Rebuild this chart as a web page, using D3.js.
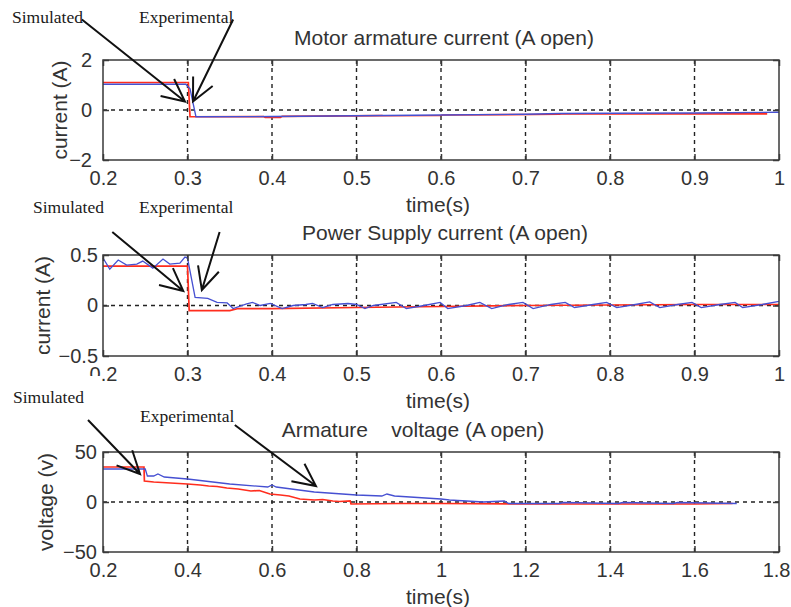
<!DOCTYPE html>
<html>
<head>
<meta charset="utf-8">
<script src="https://cdn.jsdelivr.net/npm/d3@7"></script>
<style>
    body { margin: 0; background: #fff; }
    text { font-family: "Liberation Sans", Arial, sans-serif; fill: #333; }
    .ann { font-family: "Liberation Serif", "Times New Roman", serif; fill: #1a1a1a; font-size: 17.5px; }
</style>
</head>
<body>
<div id="chart"></div>
<script>
// ---- tick labels ----
const xTicks1 = [0.2, 0.3, 0.4, 0.5, 0.6, 0.7, 0.8, 0.9, 1];
const xTicks3 = [0.2, 0.4, 0.6, 0.8, 1, 1.2, 1.4, 1.6, 1.8];
const yTicks1 = [-2, 0, 2];
const yTicks2 = [-0.5, 0, 0.5];
const yTicks3 = [-50, 0, 50];

// ---- motor armature current ----
const simT1 = [0.2, 0.301, 0.303, 0.39, 0.392, 0.41, 0.412, 0.53, 0.532, 0.6, 0.602, 0.74, 0.742, 0.986];
const simV1 = [1.1, 1.1, -0.27, -0.26, -0.3, -0.3, -0.255, -0.225, -0.23, -0.22, -0.2, -0.17, -0.155, -0.155];
const expT1 = [0.2, 0.298, 0.303, 0.31, 0.4, 0.5, 0.6, 0.7, 0.74, 0.8, 0.9, 1.0];
const expV1 = [1.03, 1.03, 0.85, -0.27, -0.26, -0.23, -0.2, -0.17, -0.14, -0.13, -0.12, -0.09];

// ---- power supply current ----
const simT2 = [0.2, 0.3, 0.302, 0.35, 0.36, 0.4, 0.5, 0.6, 0.7, 0.8, 0.9, 1.0];
const simV2 = [0.39, 0.39, -0.05, -0.05, -0.03, -0.03, -0.02, -0.01, 0, 0.005, 0.01, 0.01];
const expT2 = [0.2, 0.208, 0.218, 0.228, 0.24, 0.247, 0.259, 0.271, 0.279, 0.291, 0.297, 0.3,
    0.309, 0.324, 0.335, 0.347, 0.354, 0.37, 0.377, 0.386, 0.398, 0.412, 0.425, 0.44, 0.448,
    0.46, 0.472, 0.49, 0.5, 0.51, 0.52, 0.547, 0.559, 0.58, 0.599, 0.608, 0.63, 0.646, 0.66,
    0.68, 0.697, 0.709, 0.73, 0.747, 0.758, 0.78, 0.796, 0.808, 0.83, 0.847, 0.859, 0.88,
    0.897, 0.908, 0.93, 0.948, 0.957, 0.98, 1.0];
const expV2 = [0.47, 0.36, 0.45, 0.40, 0.41, 0.44, 0.37, 0.46, 0.41, 0.42, 0.48, 0.47,
    0.08, 0.07, 0.03, 0.025, -0.03, 0.015, 0.03, 0.0, 0.02, -0.03, 0.0, 0.01, 0.02,
    -0.02, 0.01, 0.02, 0.01, -0.03, 0.0, 0.03, -0.03, 0.0, 0.03, -0.03, 0.0, 0.03, -0.03,
    0.01, 0.03, -0.03, 0.01, 0.03, -0.02, 0.01, 0.03, -0.02, 0.01, 0.035, -0.02, 0.01,
    0.03, -0.02, 0.01, 0.03, -0.02, 0.01, 0.04];

// ---- armature voltage ----
const simT3 = [0.2, 0.297, 0.298, 0.32, 0.36, 0.4, 0.43, 0.45, 0.47, 0.493, 0.52, 0.55, 0.57,
    0.595, 0.62, 0.64, 0.666, 0.7, 0.72, 0.744, 0.76, 0.785, 0.787, 0.9, 1.0, 1.2, 1.4, 1.6, 1.69];
const simV3 = [35, 35, 21, 20, 19, 18, 17, 16, 15.5, 14, 13, 11, 11.5,
    8, 7, 6, 3, 2, 2.5, 1, 0.5, 1, -2, -1.5, -1.5, -2, -2, -2, -1.5];
const expT3 = [0.2, 0.3, 0.305, 0.32, 0.33, 0.345, 0.4, 0.5, 0.59, 0.6, 0.61, 0.7, 0.8, 0.86,
    0.872, 0.89, 1.0, 1.02, 1.1, 1.15, 1.16, 1.28, 1.29, 1.42, 1.43, 1.55, 1.56, 1.7];
const expV3 = [33, 33, 26, 26, 28, 25, 23, 18, 15, 17, 15, 10, 7, 6,
    8, 6, 3, 2, 0, 1, -1.5, -1.5, -0.5, -1.5, -0.5, -1.5, -0.5, -1.5];

const titles = ["Motor armature current (A open)", "Power Supply current (A open)", "Armature    voltage (A open)"];
const yLabels = ["current (A)", "current (A)", "voltage (v)"];

// callouts: [label, label x, label y, tail (data), tip (data)]
const notes1 = [["Simulated", 12, 23, [0.175, 3.62], [0.297, 0.34]],
                ["Experimental", 139, 23, [0.354, 3.62], [0.3065, 0.34]]];
const notes2 = [["Simulated", 33, 213, [0.211, 0.728], [0.295, 0.144]],
                ["Experimental", 139, 213, [0.338, 0.728], [0.317, 0.153]]];
const notes3 = [["Simulated", 13, 403, [0.1645, 82], [0.2876, 28]],
                ["Experimental", 140, 422, [0.512, 77], [0.704, 16]]];

const W = 791, H = 607;
const left = 103, right = 779;

let svg = d3.select("#chart").append("svg")
    .attr("width", W)
    .attr("height", H);

svg.append("rect").attr("width", W).attr("height", H).attr("fill", "#fff");

const panels = [
    {top: 60, bottom: 160, xd: [0.2, 1], yd: [-2, 2], xt: xTicks1, yt: yTicks1,
        sim: [simT1, simV1], exp: [expT1, expV1], notes: notes1, tx: 444, ylx: 67, ypad: 11},
    {top: 255, bottom: 356, xd: [0.2, 1], yd: [-0.5, 0.5], xt: xTicks1, yt: yTicks2,
        sim: [simT2, simV2], exp: [expT2, expV2], notes: notes2, tx: 445, ylx: 50, ypad: 5},
    {top: 452, bottom: 552, xd: [0.2, 1.8], yd: [-50, 50], xt: xTicks3, yt: yTicks3,
        sim: [simT3, simV3], exp: [expT3, expV3], notes: notes3, tx: 413, ylx: 53, ypad: 6}
];

panels.forEach((p, k) => draw_panel(p, k));

function draw_panel(p, k)
{
    let x = d3.scaleLinear().domain(p.xd).range([left, right]);
    let y = d3.scaleLinear().domain(p.yd).range([p.bottom, p.top]);
    let g = svg.append("g");

    // grid lines (dotted like matlab)
    g.selectAll(".vgrid")
        .data(p.xt.slice(1, -1))
        .enter()
        .append("line")
        .attr("x1", d => x(d)).attr("x2", d => x(d))
        .attr("y1", p.top).attr("y2", p.bottom)
        .attr("stroke", "#222").attr("stroke-width", 1.4)
        .attr("stroke-dasharray", "4,4");
    g.selectAll(".hgrid")
        .data(p.yt.slice(1, -1))
        .enter()
        .append("line")
        .attr("x1", left).attr("x2", right)
        .attr("y1", d => y(d)).attr("y2", d => y(d))
        .attr("stroke", "#222").attr("stroke-width", 1.4)
        .attr("stroke-dasharray", "4,4");

    // series
    let line = d3.line().x(d => x(d[0])).y(d => y(d[1]));
    g.append("path")
        .datum(d3.zip(p.sim[0], p.sim[1]))
        .attr("d", line)
        .attr("fill", "none").attr("stroke", "#ff2d1e").attr("stroke-width", 1.7);
    g.append("path")
        .datum(d3.zip(p.exp[0], p.exp[1]))
        .attr("d", line)
        .attr("fill", "none").attr("stroke", "#4650d2").attr("stroke-width", 1.3);

    // frame + inward ticks
    g.append("rect")
        .attr("x", left).attr("y", p.top)
        .attr("width", right - left).attr("height", p.bottom - p.top)
        .attr("fill", "none").attr("stroke", "#3a3a3a").attr("stroke-width", 1.5);

    g.append("g")
        .attr("transform", `translate(0,${p.bottom})`)
        .call(d3.axisBottom(x).tickValues(p.xt).tickSize(-6).tickPadding(11)
            .tickFormat(d3.format("~g")))
        .call(a => a.select(".domain").remove())
        .call(a => a.selectAll("line").attr("stroke", "#3a3a3a").attr("stroke-width", 1.5))
        .call(a => a.selectAll("text").attr("font-size", 20).attr("fill", "#333")
            .attr("font-family", "Liberation Sans, Arial, sans-serif"))
        //last label of the long axis runs into the page edge, pull it in
        .call(a => a.selectAll("text").filter(d => d == 1.8)
            .attr("text-anchor", "end").attr("x", 790 - x(1.8)));
    g.append("g")
        .attr("transform", `translate(0,${p.top})`)
        .call(d3.axisTop(x).tickValues(p.xt).tickSize(-6).tickFormat(""))
        .call(a => a.select(".domain").remove())
        .call(a => a.selectAll("line").attr("stroke", "#3a3a3a").attr("stroke-width", 1.5));
    g.append("g")
        .attr("transform", `translate(${left},0)`)
        .call(d3.axisLeft(y).tickValues(p.yt).tickSize(-6).tickPadding(p.ypad)
            .tickFormat(d3.format("~g")))
        .call(a => a.select(".domain").remove())
        .call(a => a.selectAll("line").attr("stroke", "#3a3a3a").attr("stroke-width", 1.5))
        .call(a => a.selectAll("text").attr("font-size", 20).attr("fill", "#333")
            .attr("font-family", "Liberation Sans, Arial, sans-serif"));
    g.append("g")
        .attr("transform", `translate(${right},0)`)
        .call(d3.axisRight(y).tickValues(p.yt).tickSize(-6).tickFormat(""))
        .call(a => a.select(".domain").remove())
        .call(a => a.selectAll("line").attr("stroke", "#3a3a3a").attr("stroke-width", 1.5));

    // title, labels
    g.append("text")
        .attr("x", p.tx).attr("y", p.top - 15)
        .attr("text-anchor", "middle")
        .attr("font-size", 21)
        .style("white-space", "pre")
        .text(titles[k]);
    g.append("text")
        .attr("x", 438).attr("y", p.bottom + 52)
        .attr("text-anchor", "middle")
        .attr("font-size", 21)
        .text("time(s)");
    g.append("text")
        .attr("transform", `translate(${p.ylx},${(p.top + p.bottom) / 2}) rotate(-90)`)
        .attr("text-anchor", "middle")
        .attr("font-size", 21)
        .text(yLabels[k]);

    // callouts with arrows
    p.notes.forEach(n => {
        let lbl = g.append("text")
            .attr("class", "ann")
            .attr("x", n[1]).attr("y", n[2])
            .text(n[0]);
        if (k == 2 && n[0] == "Simulated")
        {
            //the pasted label box hides part of the tick label above it
            let bb = lbl.node().getBBox();
            g.insert("rect", "text.ann")
                .attr("x", 0).attr("y", 376)
                .attr("width", 101).attr("height", bb.y + bb.height - 376 + 2)
                .attr("fill", "#fff");
        }
        let tx = x(n[3][0]), ty = y(n[3][1]);
        let hx = x(n[4][0]), hy = y(n[4][1]);
        let ang = Math.atan2(ty - hy, tx - hx);
        let barb = 25, spread = 0.45;
        let path = d3.path();
        path.moveTo(tx, ty); path.lineTo(hx, hy);
        path.moveTo(hx + barb * Math.cos(ang + spread), hy + barb * Math.sin(ang + spread));
        path.lineTo(hx, hy);
        path.lineTo(hx + barb * Math.cos(ang - spread), hy + barb * Math.sin(ang - spread));
        g.append("path")
            .attr("d", path.toString())
            .attr("fill", "none")
            .attr("stroke", "#111")
            .attr("stroke-width", 2)
            .attr("stroke-linejoin", "miter");
    });
}
</script>
</body>
</html>
